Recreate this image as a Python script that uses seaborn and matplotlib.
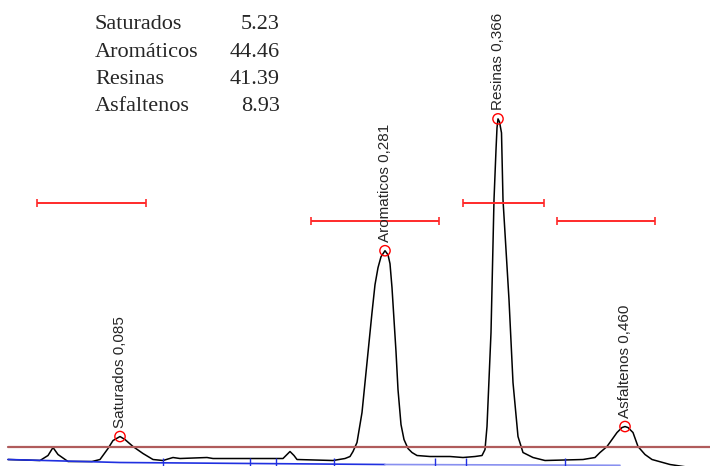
import matplotlib
matplotlib.use('Agg')
import matplotlib.pyplot as plt
import pandas as pd
import seaborn as sns

# chromatogram trace (time in min, signal in mV)
time = [0.16, 0.80, 0.96, 1.06, 1.16, 1.36, 1.84, 2.00, 2.16, 2.26, 2.40, 2.50, 2.66, 2.86,
        3.06, 3.26, 3.46, 3.60, 4.14, 4.26, 5.00, 5.66, 5.74, 5.80, 5.88, 5.94, 6.66, 6.90,
        7.00, 7.06, 7.14, 7.24, 7.34, 7.44, 7.50, 7.56, 7.62, 7.70, 7.76, 7.80, 7.84, 7.88,
        7.92, 7.96, 8.02, 8.08, 8.16, 8.24, 8.34, 8.60, 9.00, 9.26, 9.50, 9.64, 9.70, 9.74,
        9.82, 9.88, 9.92, 9.94, 9.96, 9.99, 10.03, 10.06, 10.18, 10.26, 10.36, 10.46, 10.66,
        10.90, 11.66, 11.90, 12.00, 12.14, 12.34, 12.44, 12.50, 12.56, 12.66, 12.76, 12.90,
        13.04, 13.40, 13.80]
signal = [0.0, -0.1, 0.4, 1.2, 0.5, -0.2, -0.2, 0.0, 1.1, 1.9, 2.3, 2.0, 1.3, 0.6,
          0.0, -0.1, 0.2, 0.1, 0.2, 0.1, 0.1, 0.1, 0.5, 0.8, 0.4, 0.0, -0.1, 0.1,
          0.3, 0.8, 1.7, 4.7, 9.7, 14.7, 17.5, 19.2, 20.3, 20.9, 20.5, 19.6, 17.2, 14.0,
          10.8, 7.0, 3.5, 2.0, 1.1, 0.7, 0.4, 0.3, 0.3, 0.2, 0.3, 0.4, 1.0, 3.3,
          12.7, 26.0, 31.0, 33.2, 34.1, 33.8, 32.7, 26.0, 16.0, 7.7, 2.3, 0.7, 0.2,
          -0.1, 0.0, 0.2, 0.7, 1.3, 2.7, 3.2, 3.3, 3.2, 2.7, 1.3, 0.5,
          0.0, -0.5, -0.8]

# peaks
peak_names = ['Saturados', 'Aromaticos', 'Resinas', 'Asfaltenos']
peak_time = [2.40, 7.70, 9.96, 12.50]
peak_height = [2.3, 20.9, 34.1, 3.3]
peak_value = ['0,085', '0,281', '0,366', '0,460']

# integration windows
win_start = [0.74, 6.22, 9.26, 11.14]
win_end = [2.92, 8.78, 10.88, 13.10]
win_level = [25.7, 23.9, 25.7, 23.9]

# baseline segments and slice marks
base_dark_t = [0.16, 2.40, 7.70]
base_dark_s = [0.0, -0.3, -0.5]
base_light_t = [7.70, 12.40]
base_light_s = [-0.5, -0.58]
slice_t = [3.26, 5.00, 5.52, 6.68, 8.70, 9.32, 11.30]
threshold = 1.3

# composition table
fractions = ['Saturados', 'Aromáticos', 'Resinas', 'Asfaltenos']
percent = ['5.23', '44.46', '41.39', '8.93']

sns.set_style('white')
fig = plt.figure(figsize=(7.1, 4.66), dpi=100)
ax = fig.add_axes([0, 0, 1, 1])

trace = pd.DataFrame({'time': time, 'signal': signal})
sns.lineplot(data=trace, x='time', y='signal', sort=False, color='black', lw=1.1, ax=ax)

ax.axhline(threshold, xmin=0.16 / 14.2, xmax=1, color='#b05c5c', lw=1.6)

ax.plot(base_dark_t, base_dark_s, color='#2030e0', lw=1.2)
ax.plot(base_light_t, base_light_s, color='#8890f0', lw=1.2)
ax.vlines(slice_t, -0.65, 0.2, color='#2030e0', lw=1.0)

peaks = pd.DataFrame({'time': peak_time, 'height': peak_height})
sns.scatterplot(data=peaks, x='time', y='height', marker='o', s=55,
                facecolors='none', edgecolor='red', linewidth=1.0, ax=ax, zorder=5)

for name, t, h, v in zip(peak_names, peak_time, peak_height, peak_value):
    ax.text(t, h + 0.9, f'{name} {v}', rotation=90, ha='center', va='bottom',
            fontsize=11, family='Liberation Sans')

for a, b, lev in zip(win_start, win_end, win_level):
    mid = (a + b) / 2
    ax.errorbar(mid, lev, xerr=(b - a) / 2, color='#ff2a2a', lw=1.4, capsize=3, capthick=1.2)

row_s = [43.1, 40.3, 37.6, 34.9]
for name, pct, ys in zip(fractions, percent, row_s):
    ax.text(1.9, ys, name, ha='left', va='baseline', fontsize=16, family='Liberation Serif')
    ax.text(5.6, ys, pct, ha='right', va='baseline', fontsize=16, family='Liberation Serif')

ax.set_xlim(0, 14.2)
ax.set_ylim(-0.65, 46.0)
ax.set_axis_off()

fig.savefig('out.png', dpi=100)
plt.close(fig)
